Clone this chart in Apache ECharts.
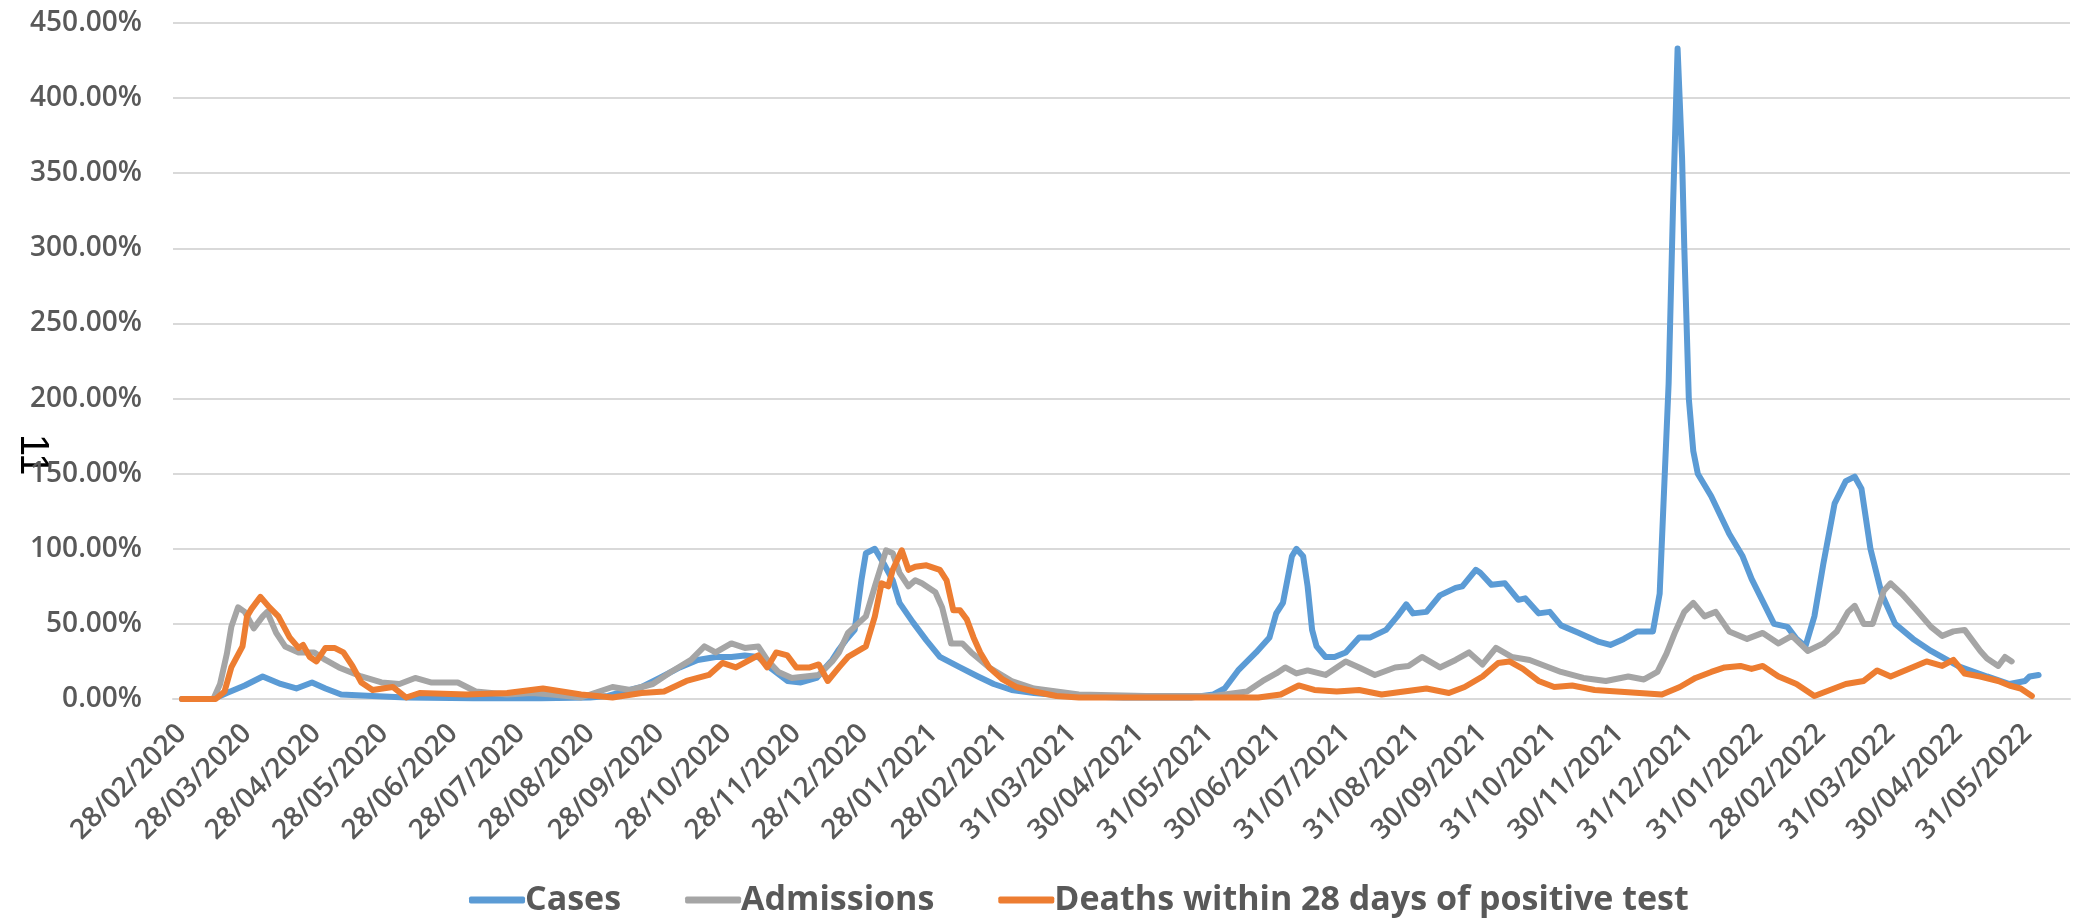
<!DOCTYPE html>
<html>
<head>
<meta charset="utf-8">
<script src="https://cdn.jsdelivr.net/npm/echarts@6/dist/echarts.min.js"></script>
<style>
html,body{margin:0;padding:0;background:#fff;}
#chart{width:2075px;height:924px;}
</style>
</head>
<body>
<div id="chart"></div>
<script>
// ---- axis range (daily category axis) ----
const axisStart = '2020-02-24';
const axisEnd = '2022-06-19';

// ---- tick labels shown on the x axis ----
const tickLabels = ['28/02/2020','28/03/2020','28/04/2020','28/05/2020','28/06/2020','28/07/2020','28/08/2020','28/09/2020','28/10/2020','28/11/2020','28/12/2020','28/01/2021','28/02/2021','31/03/2021','30/04/2021','31/05/2021','30/06/2021','31/07/2021','31/08/2021','30/09/2021','31/10/2021','30/11/2021','31/12/2021','31/01/2022','28/02/2022','31/03/2022','30/04/2022','31/05/2022'];

const yTicks = [0,50,100,150,200,250,300,350,400,450];

// ---- Cases ----
const casesDates = ['28/02/2020','13/03/2020','19/03/2020','27/03/2020','04/04/2020','12/04/2020','19/04/2020','26/04/2020','02/05/2020','09/05/2020','23/05/2020','07/06/2020','07/07/2020','06/08/2020','28/08/2020','05/09/2020','12/09/2020','20/09/2020','28/09/2020','07/10/2020','15/10/2020','23/10/2020','30/10/2020','05/11/2020','11/11/2020','17/11/2020','24/11/2020','30/11/2020','07/12/2020','11/12/2020','14/12/2020','17/12/2020','20/12/2020','24/12/2020','27/12/2020','29/12/2020','02/01/2021','06/01/2021','10/01/2021','13/01/2021','19/01/2021','25/01/2021','31/01/2021','09/02/2021','17/02/2021','24/02/2021','04/03/2021','14/03/2021','29/03/2021','23/04/2021','23/05/2021','02/06/2021','07/06/2021','13/06/2021','21/06/2021','27/06/2021','30/06/2021','03/07/2021','07/07/2021','09/07/2021','12/07/2021','14/07/2021','16/07/2021','18/07/2021','22/07/2021','26/07/2021','31/07/2021','06/08/2021','11/08/2021','18/08/2021','23/08/2021','27/08/2021','30/08/2021','05/09/2021','11/09/2021','18/09/2021','21/09/2021','27/09/2021','29/09/2021','04/10/2021','10/10/2021','16/10/2021','19/10/2021','25/10/2021','30/10/2021','04/11/2021','12/11/2021','21/11/2021','26/11/2021','02/12/2021','08/12/2021','15/12/2021','18/12/2021','20/12/2021','22/12/2021','24/12/2021','26/12/2021','28/12/2021','29/12/2021','31/12/2021','02/01/2022','04/01/2022','10/01/2022','18/01/2022','24/01/2022','28/01/2022','02/02/2022','07/02/2022','13/02/2022','17/02/2022','21/02/2022','25/02/2022','01/03/2022','06/03/2022','11/03/2022','15/03/2022','18/03/2022','22/03/2022','27/03/2022','02/04/2022','10/04/2022','18/04/2022','30/04/2022','13/05/2022','23/05/2022','30/05/2022','01/06/2022','05/06/2022'];
const casesValues = [0,0,4,9,15,10,7,11,7,3,2,1,0.5,0.5,1,2,5,8,14,21,26,28,28,29,28,20,12,11,14,21,26,33,39,46,79,97,100,90,79,64,51,39,28,21,15,10,6,4,2,1,1,3,7,19,31,41,57,64,95,100,95,75,46,35,28,28,31,41,41,46,55,63,57,58,69,74,75,86,84,76,77,66,67,57,58,49,44,38,36,40,45,45,70,140,210,330,433,360,300,200,165,150,135,110,95,80,65,50,48,40,35,55,90,130,145,148,140,100,70,50,40,32,22,15,10,12,15,16];

// ---- Admissions ----
const admissionsDates = ['28/02/2020','13/03/2020','16/03/2020','19/03/2020','21/03/2020','24/03/2020','27/03/2020','31/03/2020','04/04/2020','06/04/2020','10/04/2020','14/04/2020','20/04/2020','27/04/2020','02/05/2020','08/05/2020','18/05/2020','27/05/2020','04/06/2020','11/06/2020','18/06/2020','30/06/2020','08/07/2020','22/07/2020','02/08/2020','11/08/2020','24/08/2020','07/09/2020','15/09/2020','25/09/2020','03/10/2020','12/10/2020','18/10/2020','23/10/2020','30/10/2020','05/11/2020','11/11/2020','15/11/2020','20/11/2020','26/11/2020','02/12/2020','08/12/2020','14/12/2020','17/12/2020','21/12/2020','29/12/2020','02/01/2021','07/01/2021','10/01/2021','13/01/2021','17/01/2021','20/01/2021','23/01/2021','29/01/2021','01/02/2021','05/02/2021','10/02/2021','14/02/2021','22/02/2021','04/03/2021','14/03/2021','24/03/2021','03/04/2021','03/05/2021','02/06/2021','17/06/2021','24/06/2021','30/06/2021','04/07/2021','09/07/2021','14/07/2021','22/07/2021','31/07/2021','06/08/2021','13/08/2021','22/08/2021','28/08/2021','03/09/2021','11/09/2021','18/09/2021','24/09/2021','30/09/2021','06/10/2021','13/10/2021','21/10/2021','28/10/2021','04/11/2021','14/11/2021','24/11/2021','04/12/2021','11/12/2021','17/12/2021','21/12/2021','25/12/2021','29/12/2021','02/01/2022','07/01/2022','12/01/2022','18/01/2022','26/01/2022','02/02/2022','09/02/2022','15/02/2022','22/02/2022','01/03/2022','07/03/2022','12/03/2022','15/03/2022','19/03/2022','23/03/2022','28/03/2022','31/03/2022','05/04/2022','11/04/2022','18/04/2022','23/04/2022','28/04/2022','03/05/2022','10/05/2022','13/05/2022','18/05/2022','21/05/2022','24/05/2022'];
const admissionsValues = [0,0,10,30,48,61,58,47,55,58,44,35,31,31,26,21,15,11,10,14,11,11,5,3,4,3,1,8,6,10,18,26,35,31,37,34,35,26,18,14,15,16,25,31,44,55,75,99,97,84,75,79,77,71,61,37,37,31,21,12,7,5,3,2,2,5,12,17,21,17,19,16,25,21,16,21,22,28,21,26,31,23,34,28,26,22,18,14,12,15,13,18,30,45,58,64,55,58,45,40,44,37,42,32,37,45,58,62,50,50,72,77,70,60,48,42,45,46,32,27,22,28,25];

// ---- Deaths within 28 days of positive test ----
const deathsDates = ['28/02/2020','14/03/2020','18/03/2020','21/03/2020','26/03/2020','28/03/2020','30/03/2020','03/04/2020','07/04/2020','11/04/2020','16/04/2020','20/04/2020','22/04/2020','25/04/2020','28/04/2020','02/05/2020','06/05/2020','10/05/2020','14/05/2020','18/05/2020','23/05/2020','01/06/2020','07/06/2020','13/06/2020','04/07/2020','22/07/2020','07/08/2020','24/08/2020','07/09/2020','20/09/2020','30/09/2020','10/10/2020','20/10/2020','26/10/2020','01/11/2020','11/11/2020','15/11/2020','19/11/2020','24/11/2020','28/11/2020','04/12/2020','08/12/2020','12/12/2020','17/12/2020','21/12/2020','29/12/2020','02/01/2021','05/01/2021','08/01/2021','10/01/2021','14/01/2021','17/01/2021','20/01/2021','25/01/2021','31/01/2021','03/02/2021','06/02/2021','09/02/2021','12/02/2021','15/02/2021','18/02/2021','22/02/2021','28/02/2021','06/03/2021','14/03/2021','24/03/2021','03/04/2021','22/06/2021','02/07/2021','10/07/2021','17/07/2021','27/07/2021','06/08/2021','16/08/2021','26/08/2021','05/09/2021','15/09/2021','22/09/2021','30/09/2021','07/10/2021','12/10/2021','18/10/2021','25/10/2021','01/11/2021','09/11/2021','19/11/2021','29/11/2021','09/12/2021','19/12/2021','27/12/2021','03/01/2022','10/01/2022','16/01/2022','23/01/2022','28/01/2022','02/02/2022','09/02/2022','17/02/2022','25/02/2022','04/03/2022','11/03/2022','19/03/2022','25/03/2022','31/03/2022','08/04/2022','16/04/2022','23/04/2022','28/04/2022','03/05/2022','10/05/2022','18/05/2022','23/05/2022','28/05/2022','02/06/2022'];
const deathsValues = [0,0,5,21,35,55,60,68,61,55,41,34,36,28,25,34,34,31,22,11,6,8,1,4,3,4,7,3,1,4,5,12,16,24,21,29,21,31,29,21,21,23,12,21,28,35,55,77,75,86,99,86,88,89,86,79,59,59,53,41,31,21,13,8,5,2,1,1,3,9,6,5,6,3,5,7,4,8,15,24,25,20,12,8,9,6,5,4,3,8,14,18,21,22,20,22,15,10,2,6,10,12,19,15,20,25,22,26,17,15,12,9,7,2];

// ---- build daily categories ----
function fmt(d){
  const dd = String(d.getUTCDate()).padStart(2,'0');
  const mm = String(d.getUTCMonth()+1).padStart(2,'0');
  return dd + '/' + mm + '/' + d.getUTCFullYear();
}
const categories = [];
for (let t = Date.parse(axisStart + 'T00:00:00Z'); t <= Date.parse(axisEnd + 'T00:00:00Z'); t += 86400000) {
  categories.push(fmt(new Date(t)));
}
const tickSet = new Set(tickLabels);
const pair = (dates, vals) => dates.map((d, i) => [d, vals[i]]);

const FONT = "'Open Sans', 'Liberation Sans', sans-serif";
const chart = echarts.init(document.getElementById('chart'));
chart.setOption({
  animation: false,
  backgroundColor: '#ffffff',
  color: ['#5B9BD5', '#A5A5A5', '#ED7D31'],
  grid: { left: 173, right: 5, top: 23, bottom: 225, containLabel: false },
  legend: {
    bottom: 2,
    left: 464,
    itemWidth: 56,
    itemHeight: 7,
    itemGap: 64,
    icon: 'roundRect',
    textStyle: { fontFamily: FONT, fontSize: 34, fontWeight: 'bold', color: '#595959', padding: [0,0,0,-5] },
    data: ['Cases', 'Admissions', 'Deaths within 28 days of positive test']
  },
  xAxis: {
    type: 'category',
    data: categories,
    boundaryGap: false,
    axisLine: { lineStyle: { color: '#D9D9D9', width: 2 } },
    axisTick: { show: false },
    splitLine: { show: false },
    axisLabel: {
      interval: (idx, val) => tickSet.has(val),
      rotate: 45,
      margin: 30,
      fontFamily: FONT,
      fontSize: 28,
      fontWeight: 600,
      color: '#595959'
    }
  },
  yAxis: {
    type: 'value',
    min: yTicks[0],
    max: yTicks[yTicks.length - 1],
    interval: 50,
    axisLine: { show: false },
    axisTick: { show: false },
    splitLine: { lineStyle: { color: '#D9D9D9', width: 2 } },
    axisLabel: {
      margin: 31,
      fontFamily: FONT,
      fontSize: 28,
      fontWeight: 600,
      color: '#595959',
      formatter: v => v.toFixed(2) + '%'
    }
  },
  series: [
    { name: 'Cases', type: 'line', data: pair(casesDates, casesValues), showSymbol: false, lineStyle: { width: 6, cap: 'round', join: 'round' } },
    { name: 'Admissions', type: 'line', data: pair(admissionsDates, admissionsValues), showSymbol: false, lineStyle: { width: 6, cap: 'round', join: 'round' } },
    { name: 'Deaths within 28 days of positive test', type: 'line', data: pair(deathsDates, deathsValues), showSymbol: false, lineStyle: { width: 6, cap: 'round', join: 'round' } }
  ],
  graphic: [{
    type: 'text',
    x: 12,
    y: 434,
    rotation: -Math.PI / 2,
    style: { text: '11', fontFamily: "'Liberation Sans', sans-serif", fontSize: 40, fontWeight: 'normal', fill: '#000000', textAlign: 'left', textVerticalAlign: 'bottom' }
  }]
});
</script>
</body>
</html>
